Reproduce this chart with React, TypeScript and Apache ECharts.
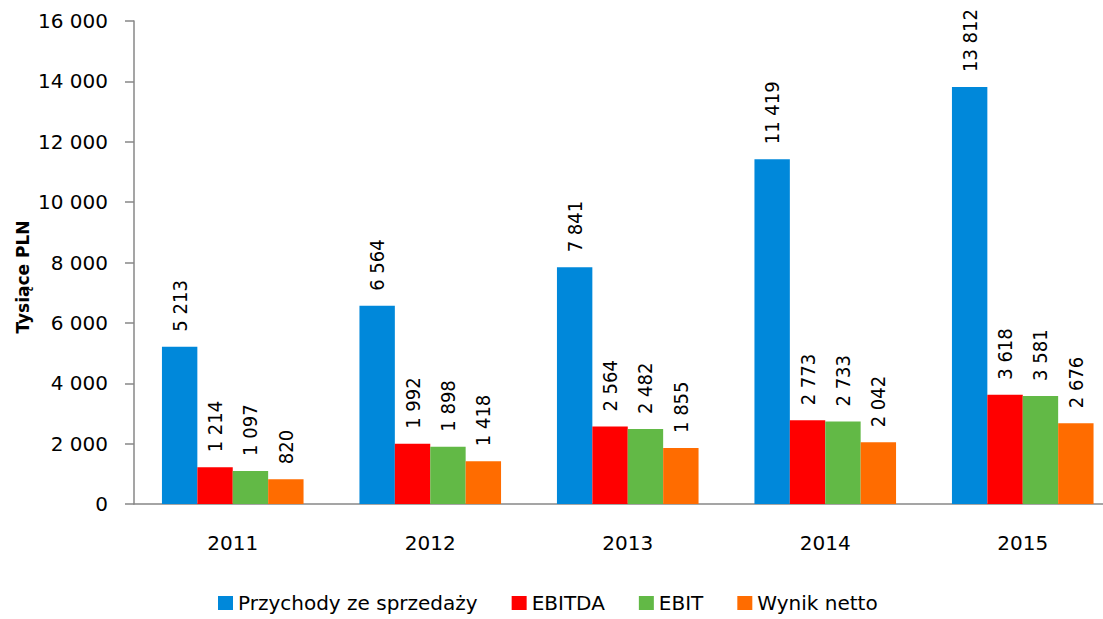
import React, { useEffect, useRef } from "react";
import * as echarts from "echarts";

const years = ["2011", "2012", "2013", "2014", "2015"];
const przychody = [5213, 6564, 7841, 11419, 13812];
const ebitda = [1214, 1992, 2564, 2773, 3618];
const ebit = [1097, 1898, 2482, 2733, 3581];
const wynikNetto = [820, 1418, 1855, 2042, 2676];
const seriesNames = ["Przychody ze sprzedaży", "EBITDA", "EBIT", "Wynik netto"];
const yAxisTitle = "Tysiące PLN";
const colors = ["#0088DA", "#FF0000", "#62B946", "#FF6C00"];

const fmt = (v: number) => String(v).replace(/\B(?=(\d{3})+(?!\d))/g, " ");

export default function App() {
  const ref = useRef<HTMLDivElement>(null);
  useEffect(() => {
    if (!ref.current) return;
    const chart = echarts.init(ref.current, undefined, { renderer: "svg" });
    const axisColor = "#878787";
    const font = "'DejaVu Sans', sans-serif";
    const labelFont = "'DejaVu Sans Condensed', 'DejaVu Sans', sans-serif";
    const datasets = [przychody, ebitda, ebit, wynikNetto];
    chart.setOption({
      animation: false,
      color: colors,
      textStyle: { fontFamily: font },
      grid: { left: 134, top: 21, bottom: 115, right: 0.5, containLabel: false },
      legend: {
        bottom: 1,
        left: 213,
        icon: "rect",
        itemWidth: 15,
        itemHeight: 14,
        itemGap: 34,
        textStyle: { fontSize: 20, color: "#000", fontFamily: font },
        data: seriesNames,
      },
      graphic: [
        {
          type: "text",
          x: 23,
          y: 277,
          rotation: Math.PI / 2,
          style: {
            text: yAxisTitle,
            fontSize: 17,
            fontWeight: "bold",
            fontFamily: font,
            fill: "#000",
            align: "center",
            verticalAlign: "middle",
          },
        },
      ],
      xAxis: {
        type: "category",
        data: years,
        axisLine: { lineStyle: { color: axisColor, width: 1.5 } },
        axisTick: { length: 8, lineStyle: { color: axisColor, width: 1.5 } },
        axisLabel: { fontSize: 20, color: "#000", margin: 29, fontFamily: font },
      },
      yAxis: {
        type: "value",
        min: 0,
        max: 16000,
        interval: 2000,
        splitLine: { show: false },
        axisLine: { show: true, lineStyle: { color: axisColor, width: 1.5 } },
        axisTick: { show: true, length: 9, lineStyle: { color: axisColor, width: 1.5 } },
        axisLabel: { fontSize: 20, color: "#000", margin: 26, fontFamily: font, formatter: (v: number) => fmt(v) },
      },
      series: seriesNames.map((name, i) => ({
        name,
        type: "bar",
        data: datasets[i],
        barWidth: 35.4,
        barGap: "0%",
        itemStyle: { color: colors[i] },
        label: {
          show: true,
          position: "top",
          rotate: 90,
          align: "left",
          verticalAlign: "middle",
          distance: 15,
          fontSize: 20,
          color: "#000",
          fontFamily: labelFont,
          formatter: (p: any) => fmt(p.value),
        },
      })),
    });
    return () => chart.dispose();
  }, []);
  return (
    <div style={{ position: "fixed", left: 0, top: 0, width: 1103, height: 619, overflow: "hidden", background: "#fff" }}>
      <div ref={ref} style={{ width: 1122, height: 619 }} />
    </div>
  );
}
